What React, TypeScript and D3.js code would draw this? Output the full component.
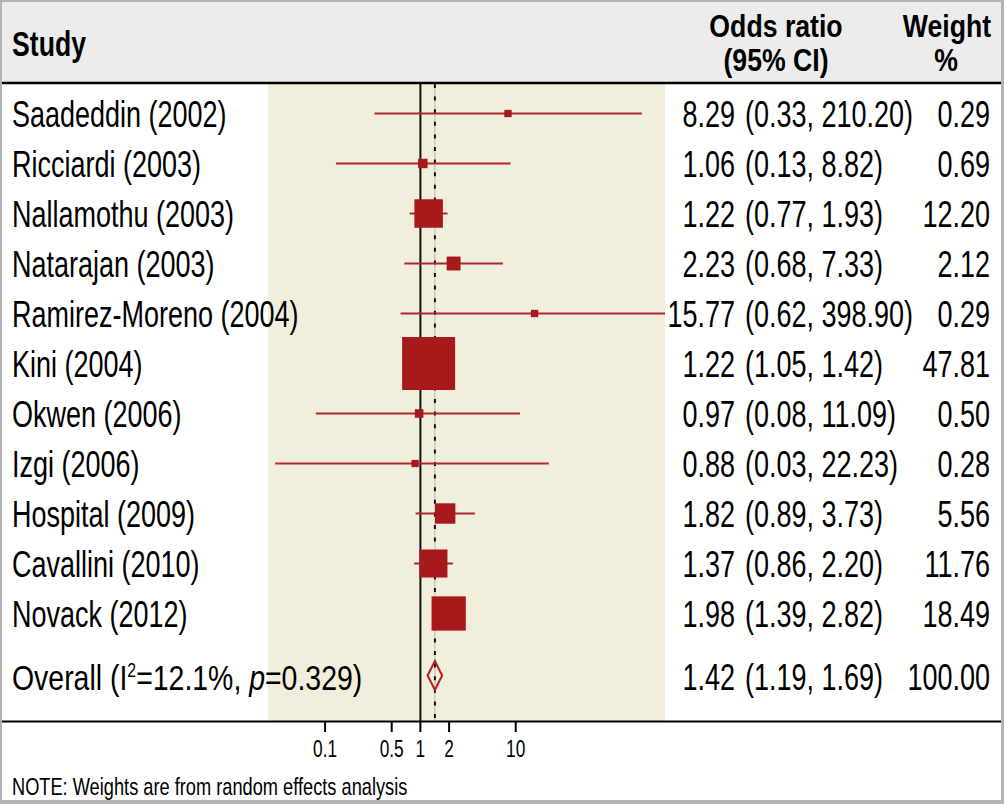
import React from "react";
import * as d3 from "d3";

const studies = [
  "Saadeddin (2002)",
  "Ricciardi (2003)",
  "Nallamothu (2003)",
  "Natarajan (2003)",
  "Ramirez-Moreno (2004)",
  "Kini (2004)",
  "Okwen (2006)",
  "Izgi (2006)",
  "Hospital (2009)",
  "Cavallini (2010)",
  "Novack (2012)",
];
const oddsRatio = [8.29, 1.06, 1.22, 2.23, 15.77, 1.22, 0.97, 0.88, 1.82, 1.37, 1.98];
const ciLow = [0.33, 0.13, 0.77, 0.68, 0.62, 1.05, 0.08, 0.03, 0.89, 0.86, 1.39];
const ciHigh = [210.2, 8.82, 1.93, 7.33, 398.9, 1.42, 11.09, 22.23, 3.73, 2.2, 2.82];
const weights = [0.29, 0.69, 12.2, 2.12, 0.29, 47.81, 0.5, 0.28, 5.56, 11.76, 18.49];

const overallOR = 1.42;
const overallLow = 1.19;
const overallHigh = 1.69;
const overallWeight = 100.0;
const overallI2 = "12.1%";
const overallP = "0.329";

const tickValues = [0.1, 0.5, 1, 2, 10];
const tickLabels = ["0.1", "0.5", "1", "2", "10"];
const noteText = "NOTE: Weights are from random effects analysis";

const FONT = "'Liberation Sans', Arial, sans-serif";
const RED = "#a8191c";

type TProps = {
  x: number;
  y: number;
  anchor?: "start" | "middle" | "end";
  size?: number;
  sx?: number;
  weight?: string;
  children?: React.ReactNode;
};
const T = ({ x, y, anchor = "start", size = 36, sx = 0.75, weight = "normal", children }: TProps) => (
  <text
    transform={`translate(${x},${y}) scale(${sx},1)`}
    textAnchor={anchor}
    fontSize={size}
    fontWeight={weight}
    fontFamily={FONT}
    fill="#000"
  >
    {children}
  </text>
);

export default function App() {
  const W = 1004;
  const H = 804;
  const plotLeft = 268;
  const plotRight = 665;
  const plotTop = 84;
  const plotBottom = 721;

  const x = d3.scaleLog().domain([0.0252, 368]).range([plotLeft, plotRight]).clamp(true);
  const y = d3.scaleLinear().domain([0, 10]).range([113.5, 613.5]);
  const overallIdx = 11.24;
  const size = d3.scaleSqrt().domain([0, 47.81]).range([1.5, 51]);

  const fmt = (v: number) => v.toFixed(2);
  const yo = y(overallIdx);
  const dh = 14.5;

  return (
    <svg
      width={W}
      height={H}
      style={{ position: "absolute", left: 0, top: 0 }}
      xmlns="http://www.w3.org/2000/svg"
    >
      <rect x={0} y={0} width={W} height={H} fill="#b3b3b3" />
      <rect x={2} y={2} width={999} height={798} fill="#ffffff" />
      <rect x={2} y={2} width={999} height={81} fill="#ececec" />

      {/* plot band */}
      <rect x={plotLeft} y={plotTop} width={plotRight - plotLeft} height={plotBottom - plotTop} fill="#f2eedc" />

      {/* header */}
      <line x1={2} x2={1001} y1={83} y2={83} stroke="#000" strokeWidth={2.5} />
      <T x={12} y={56} weight="bold" sx={0.74}>Study</T>
      <T x={776} y={37} anchor="middle" weight="bold" size={31} sx={0.86}>Odds ratio</T>
      <T x={776} y={71} anchor="middle" weight="bold" size={31} sx={0.86}>(95% CI)</T>
      <T x={947} y={37} anchor="middle" weight="bold" size={31} sx={0.86}>Weight</T>
      <T x={946} y={71} anchor="middle" weight="bold" size={31} sx={0.86}>%</T>

      {/* reference lines */}
      <line x1={x(1)} x2={x(1)} y1={plotTop} y2={plotBottom} stroke="#111" strokeWidth={2} />
      <line x1={x(overallOR)} x2={x(overallOR)} y1={plotTop} y2={plotBottom} stroke="#b5b5b5" strokeWidth={1} />
      <line
        x1={x(overallOR)}
        x2={x(overallOR)}
        y1={plotTop}
        y2={plotBottom}
        stroke="#111"
        strokeWidth={2}
        strokeDasharray="4 8.6"
      />

      {/* CI lines */}
      {studies.map((s, i) => (
        <line
          key={"ci" + s}
          x1={x(ciLow[i])}
          x2={x(ciHigh[i])}
          y1={y(i)}
          y2={y(i)}
          stroke="#b0262a"
          strokeWidth={2.2}
        />
      ))}
      {/* boxes */}
      {studies.map((s, i) => {
        const side = size(weights[i]);
        return (
          <rect
            key={"b" + s}
            x={x(oddsRatio[i]) - side / 2}
            y={y(i) - side / 2}
            width={side}
            height={side}
            fill={RED}
            stroke={RED}
            strokeWidth={2}
          />
        );
      })}

      {/* overall diamond */}
      <polygon
        points={[
          [x(overallLow), yo],
          [x(overallOR), yo - dh],
          [x(overallHigh), yo],
          [x(overallOR), yo + dh],
        ]
          .map((p) => p.join(","))
          .join(" ")}
        fill="none"
        stroke="#b3201f"
        strokeWidth={2}
      />

      {/* labels */}
      {studies.map((s, i) => (
        <g key={"t" + s}>
          <T x={12} y={y(i) + 13}>{s}</T>
          <T x={735} y={y(i) + 13} anchor="end">{fmt(oddsRatio[i])}</T>
          <T x={745} y={y(i) + 13}>{`(${fmt(ciLow[i])}, ${fmt(ciHigh[i])})`}</T>
          <T x={990} y={y(i) + 13} anchor="end">{fmt(weights[i])}</T>
        </g>
      ))}
      <T x={12} y={yo + 14} sx={0.79}>
        Overall (I
        <tspan dy={-13} fontSize={20}>2</tspan>
        <tspan dy={13}>{`=${overallI2}, `}</tspan>
        <tspan fontStyle="italic">p</tspan>
        {`=${overallP})`}
      </T>
      <T x={735} y={yo + 14} anchor="end">{fmt(overallOR)}</T>
      <T x={745} y={yo + 14}>{`(${fmt(overallLow)}, ${fmt(overallHigh)})`}</T>
      <T x={990} y={yo + 14} anchor="end">{fmt(overallWeight)}</T>

      {/* axis */}
      <line x1={2} x2={1001} y1={721.5} y2={721.5} stroke="#000" strokeWidth={2} />
      {tickValues.map((t, i) => (
        <g key={"tick" + t}>
          <line x1={x(t)} x2={x(t)} y1={722} y2={732} stroke="#000" strokeWidth={2} />
          <T x={x(t)} y={757} anchor="middle" size={24} sx={0.72}>{tickLabels[i]}</T>
        </g>
      ))}

      {/* note */}
      <T x={12} y={795} size={24} sx={0.76}>{noteText}</T>
    </svg>
  );
}
